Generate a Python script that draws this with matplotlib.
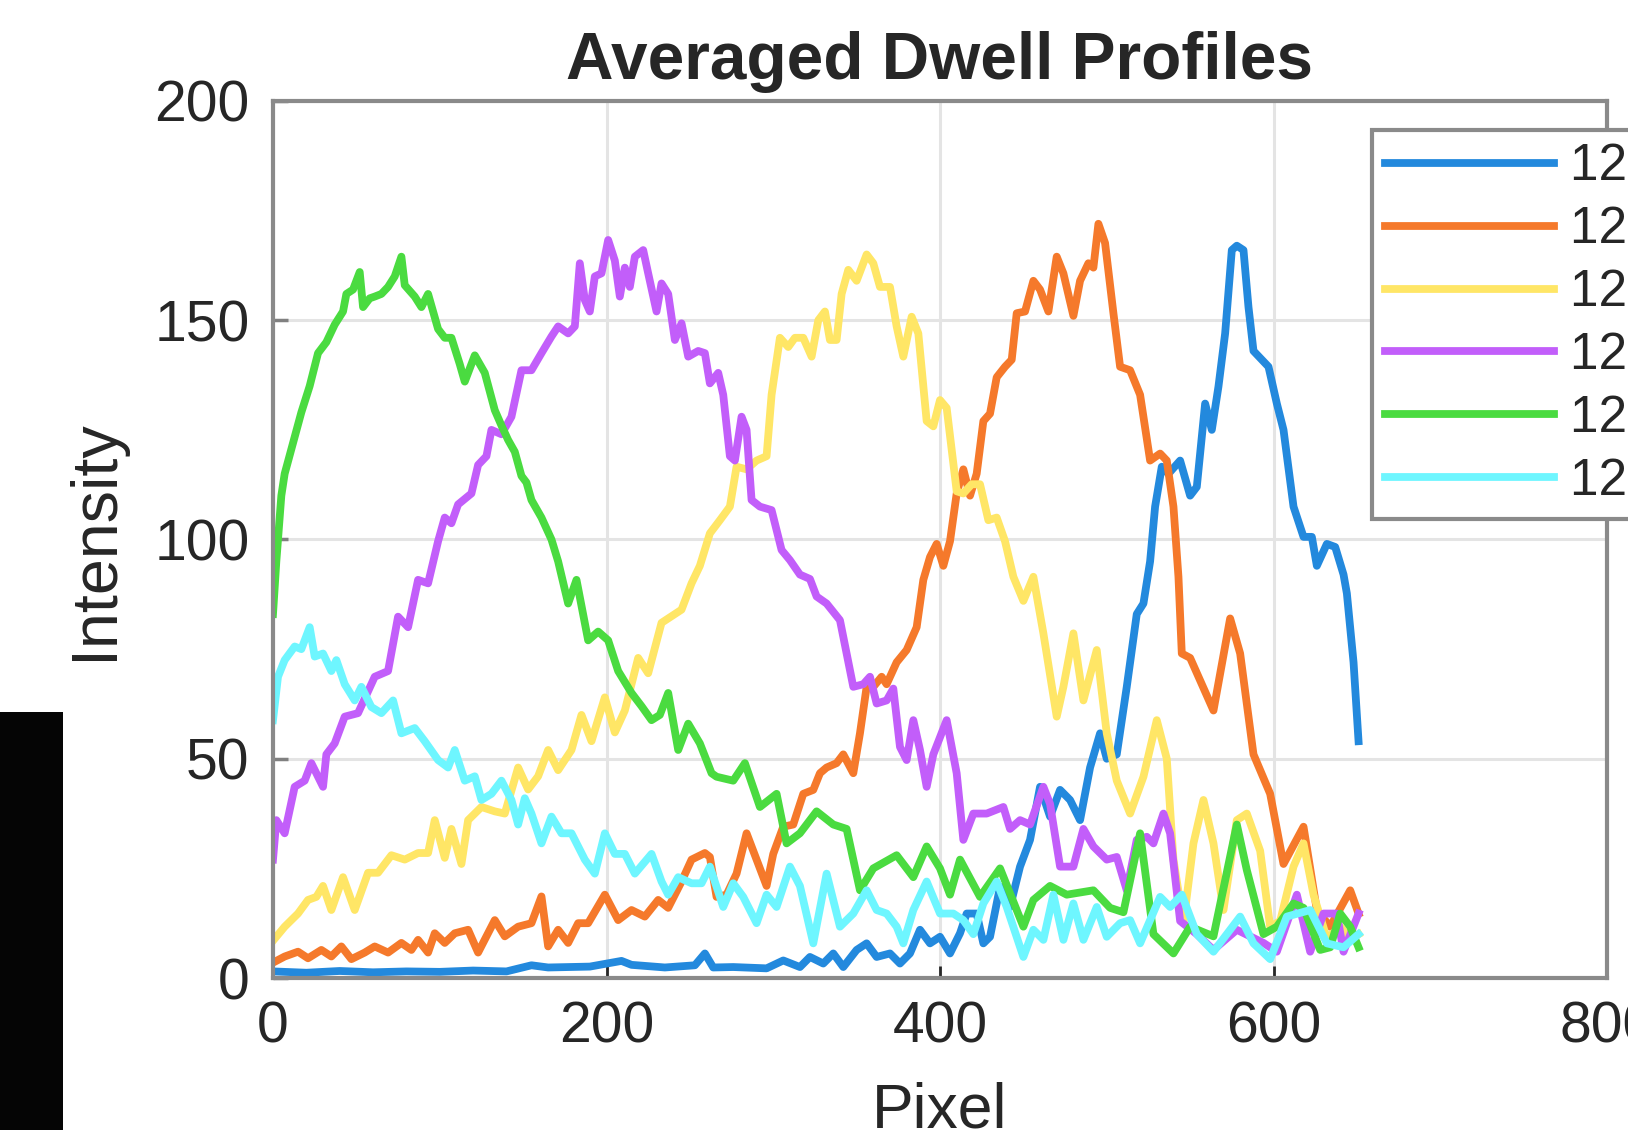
import matplotlib
matplotlib.use("Agg")
import matplotlib.pyplot as plt
from matplotlib.patches import Rectangle

plt.rcParams['font.family'] = ['Liberation Sans', 'DejaVu Sans']

# pixel positions / intensities, one list pair per dwell
blue_x = [0, 20, 40, 60, 80, 100, 120, 140, 155, 165, 190, 209, 215, 235, 253, 259, 264, 276, 296, 306,
          316, 322, 330, 336, 342, 350, 356, 362, 370, 376, 382, 388, 394, 400, 406, 412, 416, 422, 426,
          430, 436, 442, 448, 454, 460, 466, 472, 478, 484, 490, 496, 500, 506, 512, 518, 522, 526, 529,
          533, 537, 544, 550, 554, 559, 563, 567, 571, 575, 578, 582, 585, 588, 593, 597, 602, 606, 612,
          618, 623, 626, 632, 637, 642, 644, 648, 651]
blue_y = [1.5, 1.2, 1.6, 1.3, 1.5, 1.4, 1.7, 1.5, 2.9, 2.4, 2.6, 3.9, 3.0, 2.4, 2.9, 5.6, 2.4, 2.5, 2.2, 4.0,
          2.5, 4.8, 3.3, 5.6, 2.5, 6.4, 7.9, 4.8, 5.6, 3.3, 5.6, 11, 7.9, 9.4, 5.6, 10.2, 14.7, 14.7, 7.9,
          9.4, 20.8, 16.2, 25.4, 31.5, 43.6, 36.8, 42.9, 40.6, 36, 48, 55.8, 50, 51, 66.4, 83, 85.4, 95, 107.5,
          116.6, 115, 118, 110, 112, 131, 125, 134.9, 147, 166, 167, 166, 153, 143, 141, 139.4, 131, 125, 107.5,
          100.6, 100.6, 94, 99, 98.3, 92, 87.7, 72, 54]

orange_x = [0, 7, 15, 21, 29, 35, 41, 47, 55, 61, 69, 77, 83, 87, 93, 97, 103, 109, 117, 123, 133, 139,
            147, 155, 161, 165, 171, 177, 183, 189, 199, 207, 215, 223, 231, 237, 245, 251, 259, 262, 266,
            272, 278, 284, 290, 296, 300, 306, 312, 318, 324, 328, 332, 338, 342, 348, 352, 356, 360, 365,
            368, 374, 380, 386, 390, 394, 398, 402, 406, 410, 414, 418, 422, 426, 430, 434, 439, 443, 446,
            451, 456, 460, 465, 470, 474, 480, 484, 489, 492, 495, 499, 504, 508, 514, 520, 526, 532, 536,
            540, 543, 545, 550, 564, 574, 580, 588, 598, 606, 618, 626, 634, 646, 651]
orange_y = [3.5, 4.9, 6.0, 4.5, 6.4, 4.9, 7.2, 4.3, 5.8, 7.2, 5.8, 8.0, 6.4, 8.7, 5.8, 10.2, 8.0, 10.2,
            11, 5.8, 13.2, 9.5, 11.7, 12.5, 18.6, 7.2, 11, 8.0, 12.5, 12.5, 19, 13.2, 15.5, 14, 17.8, 16, 22,
            27, 28.5, 27.6, 18.5, 19, 23.8, 33, 27, 21, 28.3, 34.5, 35, 42, 42.9, 46.7, 48, 49, 51, 46.7,
            55.8, 66.4, 66.4, 68.7, 67, 72, 74.8, 80, 90.8, 96, 99, 94, 99.6, 110.5, 116, 110, 115, 127,
            128.7, 137, 139.4, 141, 151.6, 152, 159, 157, 152, 164.5, 160.7, 151, 159, 163, 162, 172, 167.6,
            151.6, 139.4, 138.6, 133, 118, 119.6, 118, 107.5, 91.5, 74, 73, 61, 82, 74, 51, 42, 26, 34.5,
            15.5, 11.7, 20, 14.7]

yellow_x = [0, 7, 15, 21, 26, 30, 35, 42, 49, 57, 63, 71, 79, 87, 93, 97, 103, 107, 113, 117, 125, 133,
            139, 147, 153, 159, 165, 171, 179, 185, 191, 199, 205, 211, 219, 225, 233, 245, 251, 256, 262,
            268, 274, 278, 284, 290, 296, 299, 304, 309, 313, 318, 323, 327, 331, 334, 338, 341, 345, 350,
            356, 360, 364, 370, 374, 378, 383, 387, 392, 396, 400, 404, 410, 414, 419, 424, 429, 434, 439,
            444, 450, 456, 462, 470, 474, 480, 486, 494, 500, 506, 514, 522, 530, 536, 540, 546, 552, 558,
            564, 570, 578, 584, 592, 598, 604, 612, 618, 624, 632, 640, 646, 651]
yellow_y = [8.5, 11.7, 14.7, 17.8, 18.5, 21, 15.5, 23, 15.5, 24, 24, 28, 27, 28.5, 28.5, 36, 27.4, 34,
            26, 36, 39, 38, 37.5, 48, 43, 46, 52, 47.4, 52, 60, 54, 64, 56, 61, 73, 69.5, 81, 84, 90, 94,
            101.4, 104.4, 107.5, 116.6, 116, 118, 119, 133, 146, 143.9, 146, 146, 141.7, 150, 152, 145.5,
            145.5, 156, 161.5, 159, 165, 163, 157.6, 157.6, 148.6, 141.7, 150.8, 147, 127, 125.8, 131.8,
            130, 111, 110.5, 112.6, 112.6, 104.4, 105, 99.6, 91.5, 86, 91.5, 78.6, 59.6, 66.4, 78.6, 63.3,
            74.8, 55.8, 45, 37.5, 45.9, 58.8, 50, 27, 12.5, 30.7, 40.6, 30.7, 15.5, 36, 37.5, 29, 11.7, 13,
            25.4, 30.7, 19, 9, 11.7, 9, 10]

purple_x = [0, 2, 7, 13, 19, 23, 30, 32, 37, 43, 51, 61, 69, 75, 81, 87, 93, 99, 103, 107, 111, 119,
            123, 128, 131, 137, 143, 149, 155, 161, 167, 171, 177, 181, 184, 187, 190, 193, 197, 201, 205,
            208, 211, 214, 217, 222, 225, 230, 233, 237, 241, 245, 249, 255, 259, 262, 267, 270, 274, 277,
            281, 284, 287, 292, 299, 305, 310, 316, 322, 326, 332, 340, 344, 348, 354, 358, 362, 368, 372,
            376, 380, 384, 388, 392, 396, 404, 410, 414, 420, 428, 438, 442, 448, 454, 462, 466, 472, 480,
            486, 492, 500, 506, 512, 518, 524, 528, 534, 538, 544, 554, 564, 578, 594, 602, 614, 622, 630,
            638, 642, 651]
purple_y = [27, 36, 33, 43.6, 45, 49, 43.6, 51, 53.5, 59.6, 60.4, 68.7, 70, 82.4, 80, 90.8, 90, 99.6,
            105, 103.7, 108, 110.5, 117, 119, 125, 124, 128, 138.6, 138.6, 142.5, 146.3, 148.6, 147, 148.6,
            163, 154.6, 152, 160, 160.7, 168.3, 163.6, 155.4, 162, 157.6, 164.5, 166, 160.7, 152, 158.4, 156,
            145.5, 149.3, 141.7, 143, 142.5, 135.6, 138, 133, 119, 118, 128, 125, 109, 107.5, 106.7, 97.6,
            95.3, 92, 91, 87, 85.4, 81.6, 74, 66.4, 67, 68.7, 62.6, 63.3, 66, 52.7, 49.7, 58.8, 52, 43.6, 51,
            58.8, 46.7, 31.5, 37.5, 37.5, 39, 34, 36, 35, 43.6, 39.7, 25.4, 25.4, 34, 30, 27, 27.6, 20, 31.5,
            32.2, 30.7, 37.5, 33, 13, 10, 6.4, 11, 8, 6, 19, 6, 14.7, 14.7, 6, 14.7]

green_x = [0, 2, 5, 7, 12, 17, 22, 27, 32, 37, 42, 44, 48, 52, 54, 58, 61, 65, 69, 73, 77, 79, 85, 89,
           93, 99, 103, 107, 112, 115, 121, 127, 133, 137, 141, 145, 149, 152, 155, 161, 167, 171, 177, 182,
           189, 195, 201, 207, 215, 221, 227, 232, 237, 243, 249, 256, 263, 266, 276, 283, 292, 302, 308,
           316, 326, 336, 344, 352, 360, 374, 384, 392, 400, 406, 412, 424, 436, 450, 456, 466, 476, 492,
           502, 510, 520, 528, 540, 550, 564, 578, 584, 594, 602, 612, 618, 628, 634, 640, 646, 651]
green_y = [83, 95, 110, 115, 122, 129, 135, 142.5, 145, 149, 152, 156, 157, 161, 153, 155, 155.4, 156,
           157.6, 160, 164.5, 158, 155.4, 153, 156, 148, 146, 146, 140, 136, 142, 138, 129.5, 126, 122.7,
           120, 114.5, 113, 109, 105, 100, 95, 85.4, 90.8, 77, 79, 77, 70, 65, 62, 58.8, 60, 65, 52, 58,
           53.5, 46.7, 45.9, 45, 49, 39, 42, 30.7, 33, 38, 35, 34, 20, 25, 28, 23, 30, 25, 19, 27, 18.5, 25,
           11.7, 17.8, 21, 19, 20, 16, 15, 33, 10, 5.6, 11.7, 9.5, 35, 24.6, 10, 11.7, 17, 16, 6.4, 7, 14.7,
           11.7, 7]

cyan_x = [0, 3, 7, 13, 17, 22, 25, 30, 35, 38, 43, 49, 53, 59, 65, 72, 77, 85, 91, 99, 105, 109, 115,
          121, 125, 131, 137, 143, 147, 151, 155, 161, 167, 173, 179, 187, 193, 199, 205, 211, 217, 227,
          233, 237, 243, 251, 257, 262, 270, 276, 282, 290, 296, 302, 310, 316, 324, 332, 340, 348, 356,
          362, 368, 374, 378, 384, 392, 400, 408, 414, 420, 426, 434, 440, 450, 456, 462, 468, 474, 480,
          486, 494, 500, 508, 514, 520, 532, 538, 545, 554, 564, 580, 588, 598, 608, 622, 632, 642, 651]
cyan_y = [58.8, 68.7, 72.5, 75.6, 75, 80, 73.3, 74, 70, 72.5, 67, 63.3, 66.4, 61.8, 60.4, 63.3, 55.8, 57,
          54, 49.7, 48, 52, 45, 46, 40.6, 42, 45, 40.6, 35, 41, 37.5, 30.7, 36.8, 33, 33, 27, 23.8, 33,
          28.3, 28.3, 23.8, 28.3, 22, 19, 23, 21.6, 21.6, 25.4, 16.2, 21.6, 18.5, 12.5, 19, 16.2, 25.4, 21,
          7.9, 23.8, 11.7, 14.7, 20, 15.5, 14.7, 11.7, 7.9, 15.5, 22, 14.7, 14.7, 13.2, 10, 17, 22, 16.2,
          4.8, 11, 8.7, 19, 8.7, 17, 8.7, 16.2, 9.4, 12.5, 13.2, 7.9, 18.5, 16.2, 19, 10, 6, 14, 7.9, 4.3,
          14, 15.5, 7.9, 7, 10]

labels = ['1200 ns', '1210 ns', '1220 ns', '1230 ns', '1240 ns', '1250 ns']
colors = ['#2389DD', '#F5792B', '#FFE666', '#C25EFA', '#4ADB40', '#6EF6FF']

fig = plt.figure(figsize=(16.28, 11.30), dpi=100)
ax = fig.add_axes([273/1628, 152/1130, 1334/1628, 877/1130])

series = [(blue_x, blue_y), (orange_x, orange_y), (yellow_x, yellow_y),
          (purple_x, purple_y), (green_x, green_y), (cyan_x, cyan_y)]
for (xs, ys), c, lab in zip(series, colors, labels):
    ax.plot(xs, ys, color=c, lw=5.6, label=lab)

ax.set_xlim(0, 800)
ax.set_ylim(0, 200)
ax.set_xticks([0, 200, 400, 600, 800])
ax.set_yticks([0, 50, 100, 150, 200])
ax.grid(True, color='#e4e4e4', lw=2.2)
ax.set_axisbelow(True)
for s in ax.spines.values():
    s.set_color('#8a8a8a')
    s.set_linewidth(3)
ax.tick_params(axis='both', direction='in', labelsize=41, colors='#262626')
ax.tick_params(axis='y', length=11, width=2.5, color='#808080', pad=17)
ax.tick_params(axis='x', length=9, width=2, color='#262626', pad=16)

ax.set_title('Averaged Dwell Profiles', fontsize=47.3, fontweight='bold', color='#262626', pad=16)
ax.set_ylabel('Intensity', fontsize=46.5, color='#262626', labelpad=21)
ax.set_xlabel('Pixel', fontsize=45, color='#262626', labelpad=20)

leg = fig.legend(loc='upper left', bbox_to_anchor=(1372/1628, 1 - 130/1130), borderaxespad=0,
                 fontsize=37, handlelength=3.3, handletextpad=0.3, borderpad=0.25, labelspacing=0.27,
                 fancybox=False, framealpha=1)
leg.get_frame().set_edgecolor('#8a8a8a')
leg.get_frame().set_linewidth(3)
for t in leg.get_texts():
    t.set_color('#262626')
for h in leg.get_lines():
    h.set_linewidth(5.6)

# black strip in the lower-left corner of the screenshot
fig.patches.append(Rectangle((0, 0), 63/1628, 418/1130, transform=fig.transFigure,
                             facecolor='#050505', edgecolor='none'))

fig.savefig('out.png', dpi=100)
